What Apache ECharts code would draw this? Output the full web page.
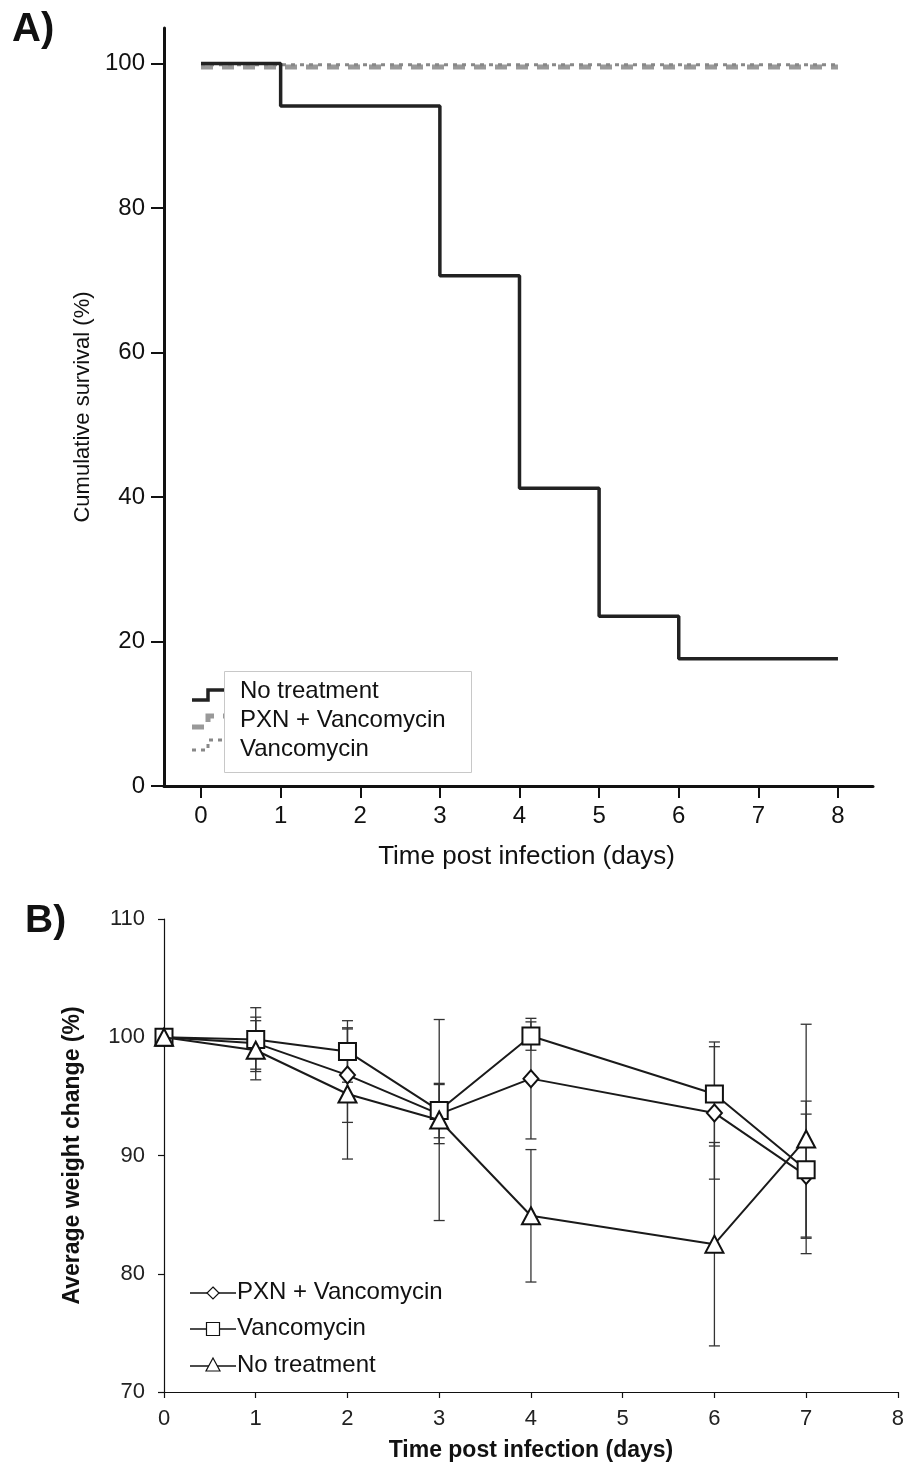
<!DOCTYPE html>
<html><head><meta charset="utf-8">
<script src="https://cdn.jsdelivr.net/npm/echarts@6/dist/echarts.min.js"></script>
<style>html,body{margin:0;padding:0;background:#fff}#c{width:907px;height:1468px}</style>
</head><body><div id="c"></div>
<script>
// ---- Panel A: survival ----
var survDays = [0, 1, 3, 4, 5, 6, 8];
var survNoTreatment = [100, 94.1, 70.6, 41.2, 23.5, 17.6, 17.6];
var survFlatDays = [0, 8];
var survPXNVanc = [99.5, 99.5];
var survVanc = [99.8, 99.8];
var survXTicks = [0, 1, 2, 3, 4, 5, 6, 7, 8];
var survYTicks = [0, 20, 40, 60, 80, 100];

// ---- Panel B: weight ----
var weightDays = [0, 1, 2, 3, 4, 6, 7];
var pxnMean = [100, 99.5, 96.8, 93.5, 96.5, 93.6, 88.3];
var pxnErr  = [0, 2.2, 4.0, 2.5, 5.1, 5.6, 5.2];
var vancMean = [100, 99.8, 98.8, 93.8, 100.1, 95.2, 88.8];
var vancErr  = [0, 2.7, 2.6, 2.3, 1.2, 4.4, 5.8];
var noTrtMean = [100, 98.9, 95.2, 93.0, 84.9, 82.5, 91.4];
var noTrtErr  = [0, 2.5, 5.5, 8.5, 5.6, 8.6, 9.7];

var FONT = '"Liberation Sans", Arial, sans-serif';

function pairs(xs, ys){ return xs.map(function(x,i){return [x, ys[i]];}); }
function errs(xs, m, e){ return xs.map(function(x,i){return [x, m[i]-e[i], m[i]+e[i]];}); }

function errRender(params, api){
  var x = api.value(0), lo = api.value(1), hi = api.value(2);
  var p1 = api.coord([x, hi]), p2 = api.coord([x, lo]);
  var w = 5.5, st = {stroke:'#333', lineWidth:1.3};
  return {type:'group', children:[
    {type:'line', shape:{x1:p1[0],y1:p1[1],x2:p2[0],y2:p2[1]}, style:st},
    {type:'line', shape:{x1:p1[0]-w,y1:p1[1],x2:p1[0]+w,y2:p1[1]}, style:st},
    {type:'line', shape:{x1:p2[0]-w,y1:p2[1],x2:p2[0]+w,y2:p2[1]}, style:st}
  ]};
}

var chart = echarts.init(document.getElementById('c'), null, {renderer:'canvas'});

var lineB = {color:'#1a1a1a', width:2};
var markB = {color:'#fff', borderColor:'#111', borderWidth:2};

var option = {
  backgroundColor:'#fff',
  animation:false,
  grid:[
    {left:164, right:34, top:28, bottom:682},
    {left:164, right:7, top:919, bottom:76}
  ],
  xAxis:[
    {gridIndex:0, type:'value', min:-0.465, max:8.44,
     axisLine:{onZero:false, lineStyle:{color:'#111', width:3}},
     axisTick:{customValues:survXTicks, length:12, lineStyle:{color:'#111', width:2}},
     axisLabel:{customValues:survXTicks, margin:18, fontSize:24, color:'#111', fontFamily:FONT},
     splitLine:{show:false},
     name:'Time post infection (days)', nameLocation:'middle', nameGap:58,
     nameTextStyle:{fontSize:26, color:'#111', fontFamily:FONT, padding:[0,0,0,16]}},
    {gridIndex:1, type:'value', min:0, max:8, interval:1,
     axisLine:{onZero:false, lineStyle:{color:'#111', width:1.2}},
     axisTick:{length:6, lineStyle:{color:'#111', width:1.2}},
     axisLabel:{margin:16, fontSize:22, color:'#222', fontFamily:FONT},
     splitLine:{show:false},
     name:'Time post infection (days)', nameLocation:'middle', nameGap:47,
     nameTextStyle:{fontSize:23, fontWeight:'bold', color:'#111', fontFamily:FONT}}
  ],
  yAxis:[
    {gridIndex:0, type:'value', min:0, max:104.9,
     axisLine:{show:true, onZero:false, lineStyle:{color:'#111', width:3}},
     axisTick:{show:true, customValues:survYTicks, length:13, lineStyle:{color:'#111', width:2}},
     axisLabel:{customValues:survYTicks, margin:19, fontSize:24, color:'#111', fontFamily:FONT},
     splitLine:{show:false},
     name:'Cumulative survival (%)', nameLocation:'middle', nameGap:64,
     nameTextStyle:{fontSize:22, color:'#111', fontFamily:FONT}},
    {gridIndex:1, type:'value', min:70, max:110, interval:10,
     axisLine:{show:true, onZero:false, lineStyle:{color:'#111', width:1.2}},
     axisTick:{show:true, length:6, lineStyle:{color:'#111', width:1.2}},
     axisLabel:{margin:19, fontSize:22, color:'#222', fontFamily:FONT},
     splitLine:{show:false},
     name:'Average weight change (%)', nameLocation:'middle', nameGap:80,
     nameTextStyle:{fontSize:23, fontWeight:'bold', color:'#111', fontFamily:FONT}}
  ],
  series:[
    {name:'PXN + Vancomycin', type:'line', xAxisIndex:0, yAxisIndex:0, data:pairs(survFlatDays, survPXNVanc),
     showSymbol:false, lineStyle:{color:'#999', width:5, type:[12,9]}, z:2},
    {name:'Vancomycin', type:'line', xAxisIndex:0, yAxisIndex:0, data:pairs(survFlatDays, survVanc),
     showSymbol:false, lineStyle:{color:'#888', width:3, type:[4,5]}, z:3},
    {name:'No treatment', type:'line', xAxisIndex:0, yAxisIndex:0, step:'end', data:pairs(survDays, survNoTreatment),
     showSymbol:false, lineStyle:{color:'#222', width:3.5}, z:4},

    {type:'custom', xAxisIndex:1, yAxisIndex:1, renderItem:errRender, data:errs(weightDays, pxnMean, pxnErr), encode:{x:0, y:[1,2]}, z:1},
    {type:'custom', xAxisIndex:1, yAxisIndex:1, renderItem:errRender, data:errs(weightDays, vancMean, vancErr), encode:{x:0, y:[1,2]}, z:1},
    {type:'custom', xAxisIndex:1, yAxisIndex:1, renderItem:errRender, data:errs(weightDays, noTrtMean, noTrtErr), encode:{x:0, y:[1,2]}, z:1},

    {name:'PXN + Vancomycin ', type:'line', xAxisIndex:1, yAxisIndex:1, data:pairs(weightDays, pxnMean),
     symbol:'diamond', symbolSize:[15,17], showSymbol:true, lineStyle:lineB, itemStyle:markB, z:3},
    {name:'Vancomycin ', type:'line', xAxisIndex:1, yAxisIndex:1, data:pairs(weightDays, vancMean),
     symbol:'rect', symbolSize:17, lineStyle:lineB, itemStyle:markB, z:4},
    {name:'No treatment ', type:'line', xAxisIndex:1, yAxisIndex:1, data:pairs(weightDays, noTrtMean),
     symbol:'triangle', symbolSize:[18,17], lineStyle:lineB, itemStyle:markB, z:5}
  ],
  graphic:[
    {type:'text', left:12, top:10, style:{text:'A)', font:'bold 40px '+FONT, fill:'#111'}},
    {type:'text', left:25, top:902, style:{text:'B)', font:'bold 39px '+FONT, fill:'#111'}},
    // Legend A samples (step shapes), partly under the box
    {type:'polyline', z:10, shape:{points:[[192,700],[208,700],[208,690],[226,690]]}, style:{stroke:'#222', lineWidth:3.5, fill:null}},
    {type:'polyline', z:10, shape:{points:[[192,727],[208,727],[208,716],[226,716]]}, style:{stroke:'#999', lineWidth:5, lineDash:[12,9], fill:null}},
    {type:'polyline', z:10, shape:{points:[[192,750],[208,750],[208,740],[226,740]]}, style:{stroke:'#888', lineWidth:3, lineDash:[4,5], fill:null}},
    {type:'rect', z:11, shape:{x:224.5, y:671.5, width:247, height:101}, style:{fill:'#fff', stroke:'#c8c8c8', lineWidth:1}},
    {type:'text', z:12, left:240, top:679, style:{text:'No treatment', font:'24px '+FONT, fill:'#111'}},
    {type:'text', z:12, left:240, top:708, style:{text:'PXN + Vancomycin', font:'24px '+FONT, fill:'#111'}},
    {type:'text', z:12, left:240, top:737, style:{text:'Vancomycin', font:'24px '+FONT, fill:'#111'}},
    // Legend B
    {type:'line', z:10, shape:{x1:190,y1:1293,x2:236,y2:1293}, style:{stroke:'#111', lineWidth:1.6}},
    {type:'polygon', z:11, shape:{points:[[213,1287],[219,1293],[213,1299],[207,1293]]}, style:{fill:'#fff', stroke:'#111', lineWidth:1.2}},
    {type:'line', z:10, shape:{x1:190,y1:1329,x2:236,y2:1329}, style:{stroke:'#111', lineWidth:1.6}},
    {type:'rect', z:11, shape:{x:206.5, y:1322.5, width:13, height:13}, style:{fill:'#fff', stroke:'#111', lineWidth:1.2}},
    {type:'line', z:10, shape:{x1:190,y1:1366,x2:236,y2:1366}, style:{stroke:'#111', lineWidth:1.6}},
    {type:'polygon', z:11, shape:{points:[[213,1358],[220,1371],[206,1371]]}, style:{fill:'#fff', stroke:'#111', lineWidth:1.2}},
    {type:'text', z:12, left:237, top:1280, style:{text:'PXN + Vancomycin', font:'24px '+FONT, fill:'#111'}},
    {type:'text', z:12, left:237, top:1316, style:{text:'Vancomycin', font:'24px '+FONT, fill:'#111'}},
    {type:'text', z:12, left:237, top:1353, style:{text:'No treatment', font:'24px '+FONT, fill:'#111'}}
  ]
};
chart.setOption(option);
</script>
</body></html>
